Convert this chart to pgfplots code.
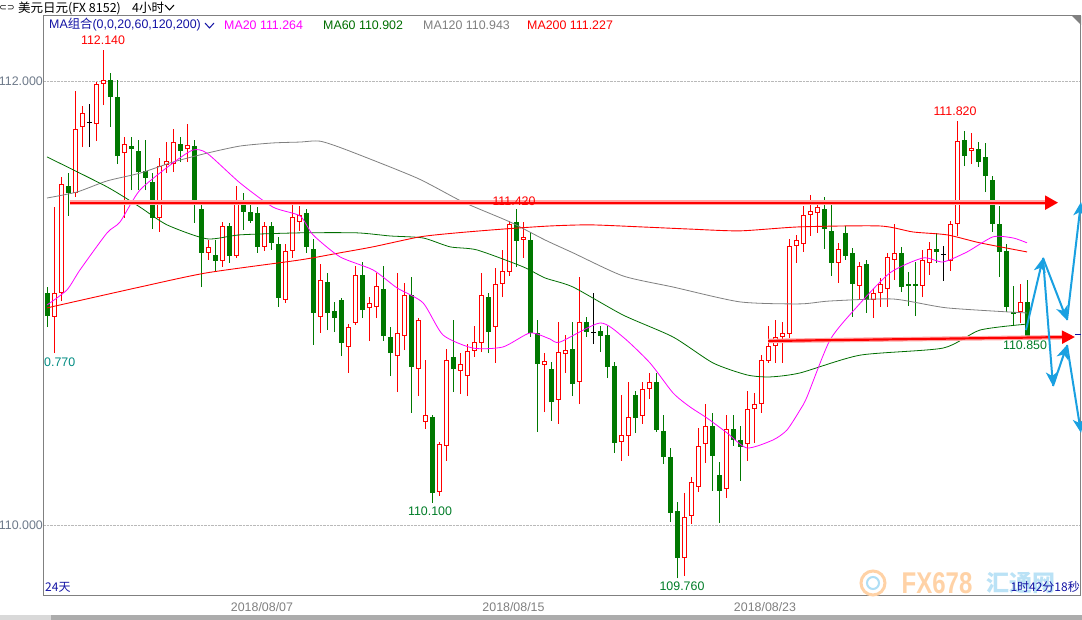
\documentclass[border=0pt]{standalone}
\usepackage{fontspec}
\setmainfont{Liberation Sans}
\newfontfamily\cjk{Noto Sans CJK SC}
\newfontfamily\dejavu{DejaVu Sans}
\usepackage{pgfplots}
\usepackage{pgfplotstable}
\pgfplotsset{compat=1.18}
\usetikzlibrary{arrows.meta}

\definecolor{cred}{RGB}{255,0,0}
\definecolor{cgreen}{RGB}{0,120,0}
\definecolor{maSixty}{RGB}{0,110,0}
\definecolor{maTwenty}{RGB}{255,0,255}
\definecolor{maOneTwenty}{RGB}{128,128,128}
\definecolor{navy}{RGB}{20,20,165}
\definecolor{arrowblue}{RGB}{25,160,225}
\definecolor{axgray}{RGB}{128,128,128}
\definecolor{ticklab}{RGB}{110,122,138}
\definecolor{lowgreen}{RGB}{0,125,40}
\definecolor{lowteal}{RGB}{0,140,130}

\newcommand{\fs}{\fontsize{12.4}{14}\selectfont}

% up (red, hollow) candles: index open high low close
\pgfplotstableread{
x o h l c
1 110.937 111.432 110.774 111.045
2 111.045 111.567 111.009 111.536
4 111.495 111.955 111.477 111.783
5 111.792 111.887 111.702 111.855
7 111.806 111.996 111.729 111.987
8 111.987 112.140 111.891 112.005
11 111.675 111.747 111.383 111.716
16 111.383 111.653 111.320 111.617
17 111.622 111.725 111.585 111.640
18 111.626 111.783 111.590 111.725
20 111.693 111.806 111.635 111.712
23 111.226 111.284 111.194 111.253
25 111.190 111.365 111.163 111.347
27 111.212 111.527 111.203 111.464
31 111.253 111.365 111.235 111.347
34 111.014 111.266 111.001 111.235
35 111.235 111.464 111.203 111.388
36 111.365 111.437 111.325 111.397
39 110.937 111.176 110.865 111.104
43 110.802 110.905 110.685 110.891
44 110.910 111.167 110.901 111.127
46 110.977 111.027 110.829 111.001
47 110.983 111.136 110.932 111.077
50 110.761 111.136 110.599 110.865
51 110.851 111.091 110.788 111.037
53 110.703 110.932 110.581 110.923
54 110.464 110.743 110.433 110.496
56 110.149 110.374 110.131 110.365
57 110.356 110.793 110.289 110.743
59 110.694 110.774 110.590 110.725
60 110.671 110.815 110.581 110.784
61 110.784 110.896 110.757 110.824
62 110.820 111.136 110.779 111.037
64 110.891 111.158 110.730 111.086
65 111.086 111.239 111.027 111.145
66 111.140 111.370 111.122 111.356
68 111.284 111.365 111.203 111.298
71 110.720 110.774 110.509 110.739
73 110.563 110.914 110.455 110.779
74 110.770 110.856 110.685 110.788
76 110.644 111.118 110.545 110.914
82 110.374 110.586 110.289 110.406
83 110.401 110.644 110.311 110.487
85 110.491 110.644 110.455 110.613
86 110.613 110.685 110.568 110.644
91 109.851 110.145 109.770 110.037
92 110.041 110.217 110.005 110.194
93 110.172 110.437 110.149 110.356
94 110.365 110.545 110.280 110.446
97 110.163 110.496 110.122 110.433
100 110.365 110.604 110.289 110.523
101 110.523 110.595 110.370 110.545
102 110.545 110.765 110.505 110.743
103 110.739 110.896 110.730 110.806
104 110.806 110.923 110.730 110.847
105 110.847 110.914 110.730 110.865
106 110.860 111.289 110.842 111.257
107 111.257 111.307 111.181 111.284
108 111.266 111.437 111.230 111.397
109 111.397 111.487 111.302 111.415
110 111.406 111.455 111.316 111.432
113 111.181 111.271 111.091 111.244
116 111.077 111.185 111.018 111.167
118 111.014 111.064 110.932 111.045
119 111.045 111.113 110.983 111.086
120 111.064 111.226 110.983 111.208
121 111.194 111.356 111.104 111.226
125 111.077 111.239 111.027 111.194
126 111.181 111.275 111.127 111.244
129 111.190 111.370 111.145 111.356
130 111.356 111.820 111.302 111.729
132 111.684 111.766 111.626 111.698
139 110.959 111.086 110.910 111.005
}\upcandles

% down (green, filled) candles
\pgfplotstableread{
x o h l c
0 111.045 111.072 110.891 110.941
3 111.527 111.585 111.392 111.495
9 112.005 112.036 111.792 111.927
10 111.927 112.005 111.626 111.662
12 111.707 111.747 111.509 111.693
13 111.684 111.734 111.509 111.590
14 111.594 111.734 111.509 111.563
15 111.545 111.585 111.333 111.383
19 111.716 111.747 111.635 111.684
21 111.707 111.734 111.361 111.455
22 111.424 111.451 111.072 111.226
24 111.217 111.284 111.140 111.190
26 111.347 111.361 111.181 111.212
28 111.451 111.495 111.329 111.410
29 111.410 111.460 111.361 111.370
30 111.406 111.432 111.226 111.253
32 111.347 111.365 111.239 111.271
33 111.266 111.298 110.983 111.023
37 111.406 111.424 111.226 111.253
38 111.244 111.289 110.811 110.955
40 111.095 111.136 110.878 110.955
41 110.964 111.005 110.869 110.932
42 111.014 111.023 110.761 110.820
45 111.127 111.185 110.932 110.968
48 111.064 111.167 110.829 110.851
49 110.847 110.891 110.671 110.774
52 111.037 111.118 110.505 110.712
55 110.487 110.496 110.100 110.145
58 110.757 110.923 110.599 110.703
63 111.027 111.045 110.774 110.869
67 111.365 111.424 111.163 111.280
69 111.284 111.320 110.847 110.865
70 110.865 110.923 110.419 110.725
72 110.703 110.734 110.469 110.554
75 110.793 110.914 110.581 110.635
77 110.914 110.937 110.847 110.869
79 110.874 110.896 110.779 110.851
80 110.856 110.896 110.662 110.712
81 110.716 110.734 110.325 110.370
84 110.586 110.604 110.415 110.482
87 110.644 110.685 110.419 110.428
88 110.424 110.496 110.275 110.307
89 110.307 110.347 110.014 110.055
90 110.064 110.104 109.760 109.851
95 110.446 110.505 110.154 110.311
96 110.226 110.284 110.010 110.154
98 110.433 110.496 110.356 110.383
99 110.383 110.446 110.199 110.352
111 111.424 111.477 111.244 111.333
112 111.325 111.446 111.122 111.181
114 111.316 111.347 111.194 111.212
115 111.226 111.248 110.937 111.086
117 111.176 111.194 110.955 111.014
122 111.226 111.253 111.050 111.072
123 111.086 111.140 110.987 111.077
124 111.086 111.185 110.941 111.077
127 111.244 111.316 111.181 111.230
131 111.734 111.775 111.617 111.662
133 111.693 111.725 111.612 111.635
134 111.658 111.721 111.500 111.572
135 111.554 111.572 111.320 111.356
136 111.356 111.437 111.118 111.230
137 111.235 111.266 110.959 110.983
138 110.959 111.077 110.901 110.950
140 111.005 111.104 110.850 110.850
}\downcandles

% doji (black) candles
\pgfplotstableread{
x y h l
6 111.815 111.896 111.702
78 110.869 111.045 110.815
128 111.217 111.257 111.100
}\dojicandles

\begin{document}
\begin{tikzpicture}[x=1pt,y=-1pt]
\useasboundingbox (0,0) rectangle (1082,620);
\fill[white] (0,0) rectangle (1082,620);
\begin{axis}[
  at={(44pt,-595pt)}, anchor=south west,
  scale only axis, width=1037pt, height=579pt,
  xmin=-0.471, xmax=147.67, ymin=109.6847, ymax=112.2928,
  clip=false,
  axis line style={draw=axgray, line width=1pt},
  major tick length=0pt,
  tick style={draw=none},
  ytick={110,112}, yticklabels={110.000,112.000},
  xtick={30.67,66.6,102.53}, xticklabels={2018/08/07,2018/08/15,2018/08/23},
  yticklabel style={text=ticklab, font=\fs, inner sep=1pt},
  xticklabel style={text=axgray, font=\fs, inner sep=1pt, yshift=-6pt},
  ymajorgrids, grid style={densely dotted, draw=gray!55, line width=0.8pt},
]
% ---- wicks
\addplot[draw=none, forget plot, error bars/y dir=plus, error bars/y explicit, error bars/error mark=none,
  error bars/error bar style={draw=cred, line width=1pt}]
  table[x=x, y=l, y error plus expr=\thisrow{h}-\thisrow{l}] {\upcandles};
\addplot[draw=none, forget plot, error bars/y dir=plus, error bars/y explicit, error bars/error mark=none,
  error bars/error bar style={draw=cgreen, line width=1pt}]
  table[x=x, y=l, y error plus expr=\thisrow{h}-\thisrow{l}] {\downcandles};
\addplot[draw=none, forget plot, error bars/y dir=plus, error bars/y explicit, error bars/error mark=none,
  error bars/error bar style={draw=black, line width=1pt}]
  table[x=x, y=l, y error plus expr=\thisrow{h}-\thisrow{l}] {\dojicandles};
% ---- bodies
\addplot[draw=none, forget plot, error bars/y dir=plus, error bars/y explicit, error bars/error mark=none,
  error bars/error bar style={draw=cred, line width=5pt}]
  table[x=x, y=o, y error plus expr=\thisrow{c}-\thisrow{o}] {\upcandles};
\addplot[draw=none, forget plot, error bars/y dir=plus, error bars/y explicit, error bars/error mark=none,
  error bars/error bar style={draw=white, line width=3pt}]
  table[x=x, y expr=\thisrow{o}+0.0045, y error plus expr=\thisrow{c}-\thisrow{o}-0.009] {\upcandles};
\addplot[draw=none, forget plot, error bars/y dir=plus, error bars/y explicit, error bars/error mark=none,
  error bars/error bar style={draw=cgreen, line width=5pt}]
  table[x=x, y=c, y error plus expr=\thisrow{o}-\thisrow{c}] {\downcandles};
\addplot[only marks, mark=-, mark size=2.5pt, black, mark options={line width=1pt}, forget plot]
  table[x=x, y=y] {\dojicandles};
% ---- moving averages
\addplot[maOneTwenty, line width=0.8pt, smooth, tension=0.4] coordinates {
(-0.04,111.473) (4.24,111.500) (8.54,111.550) (13.24,111.585) (17.96,111.635) (22.81,111.675) (27.53,111.707) (32.24,111.721) (36.1,111.725) (38.96,111.729) (42.81,111.689) (52.81,111.563) (59.39,111.455) (66.1,111.365) (71.1,111.284) (75.1,111.226) (82.24,111.122) (89.39,111.072) (98.96,111.005) (107.53,110.996) (111.81,111.009) (120.81,111.018) (128.53,110.978) (139.96,110.955)};
\addplot[maSixty, line width=0.8pt, smooth, tension=0.4] coordinates {
(-0.04,111.658) (8.54,111.523) (13.24,111.432) (17.1,111.352) (22.81,111.289) (27.53,111.307) (36.1,111.316) (44.24,111.316) (48.96,111.302) (53.67,111.293) (57.53,111.253) (61.39,111.239) (67.96,111.163) (71.1,111.113) (75.1,111.072) (82.24,110.946) (89.39,110.847) (95.1,110.730) (99.96,110.676) (103.24,110.667) (107.53,110.685) (116.1,110.765) (127.96,110.797) (133.24,110.878) (139.96,110.905)};
\addplot[cred, line width=0.9pt, smooth, tension=0.4] coordinates {
(-0.04,110.978) (13.24,111.072) (22.81,111.136) (36.1,111.194) (41.81,111.226) (46.53,111.253) (53.24,111.298) (58.53,111.316) (65.1,111.333) (71.81,111.347) (77.53,111.352) (84.67,111.343) (91.81,111.333) (98.96,111.325) (107.53,111.343) (118.96,111.347) (123.67,111.320) (128.53,111.307) (133.24,111.271) (139.96,111.230)};
\addplot[maTwenty, line width=0.8pt, smooth, tension=0.4] coordinates {
(-0.04,110.991) (2.81,111.059) (4.67,111.149) (8.54,111.316) (10.39,111.365) (13.24,111.509) (17.96,111.631) (20.81,111.689) (22.81,111.675) (27.53,111.541) (32.24,111.432) (36.1,111.392) (37.96,111.307) (41.81,111.208) (46.53,111.149) (49.96,111.068) (53.67,111.001) (56.53,110.856) (60.81,110.797) (65.1,110.802) (68.96,110.865) (71.81,110.838) (73.24,110.824) (78.96,110.910) (82.24,110.847) (86.1,110.730) (89.39,110.595) (91.81,110.532) (94.24,110.482) (97.1,110.415) (99.96,110.347) (103.67,110.383) (105.67,110.428) (107.53,110.518) (108.53,110.577) (111.81,110.833) (115.67,110.983) (120.39,111.136) (125.1,111.203) (127.96,111.185) (131.39,111.230) (135.1,111.298) (137.96,111.293) (139.96,111.271)};
% ---- support / resistance lines
\addplot[red!35, line width=4.5pt, forget plot] coordinates {(3.24,111.452) (143,111.452)};
\addplot[cred, line width=2.2pt, -{Triangle[length=13pt,width=14pt]}] coordinates {(3.24,111.452) (144.39,111.452)};
\addplot[red!35, line width=4.5pt, forget plot] coordinates {(102.96,110.829) (145.4,110.846)};
\addplot[cred, line width=2.2pt, -{Triangle[length=13pt,width=13pt]}] coordinates {(102.96,110.829) (146.81,110.847)};
\addplot[navy, line width=1pt] coordinates {(146.81,110.856) (147.67,110.856)};
% ---- blue scenario arrows
\addplot[arrowblue, line width=2pt, -{Stealth[length=14pt,width=12pt,inset=4pt]}] coordinates {(139.81,110.878) (142.24,111.203)};
\addplot[arrowblue, line width=2pt, -{Stealth[length=14pt,width=12pt,inset=4pt]}] coordinates {(142.24,111.203) (145.67,110.923)};
\addplot[arrowblue, line width=2pt, -{Stealth[length=14pt,width=12pt,inset=4pt]}] coordinates {(145.67,110.923) (147.67,111.455)};
\addplot[arrowblue, line width=2pt, -{Stealth[length=14pt,width=12pt,inset=4pt]}] coordinates {(142.24,111.203) (143.67,110.626)};
\addplot[arrowblue, line width=2pt, -{Stealth[length=14pt,width=12pt,inset=4pt]}] coordinates {(143.67,110.626) (145.67,110.811)};
\addplot[arrowblue, line width=2pt, -{Stealth[length=14pt,width=12pt,inset=4pt]}] coordinates {(145.67,110.811) (147.67,110.415)};
\end{axis}
% ---- header
\node[anchor=center, inner sep=0] at (7,8) {\dejavu\fontsize{9}{9}\selectfont ⊂⊃};
\node[anchor=west, inner sep=0] at (18,8) {\cjk\fontsize{12.5}{14}\selectfont 美元日元(FX 8152)};
\node[anchor=west, inner sep=0] at (132,8) {\cjk\fontsize{12.5}{14}\selectfont 4小时};
\draw[line width=1pt] (165,5) -- (169.5,10) -- (174,5);
% ---- legend row
\node[anchor=west, inner sep=0, text=navy] at (49,25) {\fs MA{\cjk 组合}(0,0,20,60,120,200)};
\draw[navy, line width=1pt] (205,23) -- (209.5,28) -- (214,23);
\node[anchor=west, inner sep=0, text=maTwenty] at (224,25) {\fs MA20 111.264};
\node[anchor=west, inner sep=0, text=maSixty] at (323,25) {\fs MA60 110.902};
\node[anchor=west, inner sep=0, text=maOneTwenty] at (423,25) {\fs MA120 110.943};
\node[anchor=west, inner sep=0, text=cred] at (527,25) {\fs MA200 111.227};
% ---- price annotations
\node[inner sep=0, text=cred] at (103,40) {\fs 112.140};
\node[inner sep=0, text=cred] at (514,201) {\fs 111.420};
\node[inner sep=0, text=cred] at (955,111) {\fs 111.820};
\node[inner sep=0, text=lowgreen] at (1025,345) {\fs 110.850};
\node[anchor=west, inner sep=0, text=lowteal] at (44,362) {\fs 0.770};
\node[inner sep=0, text=lowgreen] at (430,511) {\fs 110.100};
\node[inner sep=0, text=lowgreen] at (682,586) {\fs 109.760};
% ---- watermark
\draw[orange!35, line width=3pt] (873,583) circle (12);
\draw[arrowblue!35, line width=2pt] (873,583) circle (6);
\node[inner sep=0, text=orange!35] at (937,583) {\scalebox{0.8}[1]{\fontsize{30}{30}\selectfont\bfseries FX678}};
\node[inner sep=0, text=arrowblue!30] at (1021,583) {\cjk\fontsize{23}{23}\selectfont\bfseries 汇通网};
% ---- bottom texts
\node[anchor=east, inner sep=0, text=navy] at (1080,587) {\cjk\fontsize{12}{14}\selectfont 1时42分18秒};
\node[anchor=west, inner sep=0, text=navy] at (45,587) {\cjk\fontsize{12}{14}\selectfont 24天};
% ---- decorations
\fill[axgray] (1072,16) -- (1081,16) -- (1081,25) -- cycle;
\fill[gray!65] (0,615) rectangle (1082,620);
\fill[gray!30] (0,615) rectangle (51,620);
\end{tikzpicture}
\end{document}
